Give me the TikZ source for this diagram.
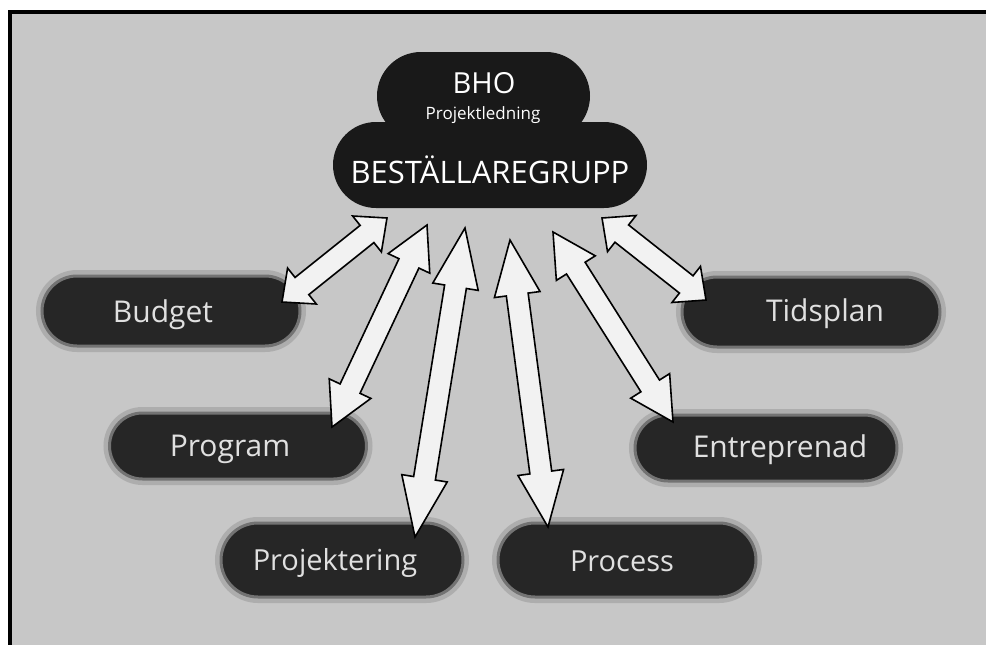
\documentclass[tikz,border=0pt]{standalone}
\usepackage{fontspec}
\setmainfont{Open Sans}
\usetikzlibrary{calc}
\tikzset{
  pillbox/.style={rectangle, rounded corners=35pt, inner sep=0pt, minimum height=70pt,
    fill=black!85, draw=black!55, line width=3pt,
    preaction={draw=black!32, line width=12pt}},
  cloudpart/.style={rectangle, rounded corners=43pt, inner sep=0pt, fill=black!90, draw=none},
  pilltext/.style={text=black!12, anchor=base, inner sep=0pt, font=\fontsize{30}{30}\selectfont},
  toptext/.style={text=white, anchor=base, inner sep=0pt},
  blockarrow/.style={draw=black, line width=1.6pt, fill=black!5, line join=miter},
}
\newcommand\dblarrow[2]{%
  \pgfmathanglebetweenpoints{\pgfpointanchor{#1}{center}}{\pgfpointanchor{#2}{center}}%
  \let\arang\pgfmathresult
  \pgfpointdiff{\pgfpointanchor{#1}{center}}{\pgfpointanchor{#2}{center}}%
  \pgfgetlastxy\arx\ary
  \pgfmathsetmacro\arlen{veclen(\arx,\ary)}%
  \pgfmathsetmacro\arhead{0.19*\arlen}%
  \pgfmathsetmacro\arb{\arlen-\arhead}%
  \draw[blockarrow, shift={(#1)}, rotate=\arang]
    (0pt,0pt) -- (\arhead pt,23pt) -- (\arhead pt,11pt) -- (\arb pt,11pt) -- (\arb pt,23pt)
    -- (\arlen pt,0pt) -- (\arb pt,-23pt) -- (\arb pt,-11pt) -- (\arhead pt,-11pt)
    -- (\arhead pt,-23pt) -- cycle;
}
\begin{document}
\begin{tikzpicture}[x=1pt,y=-1pt]
\useasboundingbox (0,0) rectangle (986,645);
% background and frame
\fill[white] (0,0) rectangle (986,645);
\fill[black!22] (10,11.5) rectangle (986,645);
\draw[line width=4pt] (10,645) -- (10,11.5) -- (986,11.5);

% pills
\node[pillbox, minimum width=258pt] (budget) at (171,311) {};
\node[pillbox, minimum width=258pt] (tidsplan) at (811,312) {};
\node[pillbox, minimum width=257pt, minimum height=66pt, rounded corners=33pt] (program) at (238,446) {};
\node[pillbox, minimum width=262pt, minimum height=66pt, rounded corners=33pt] (entreprenad) at (766,448) {};
\node[pillbox, minimum width=242pt, minimum height=74pt, rounded corners=37pt] (projektering) at (342,560) {};
\node[pillbox, minimum width=258pt, minimum height=74pt, rounded corners=37pt] (process) at (627,560) {};

% pill labels
\node[pilltext] (budgett) at (163,322) {Budget};
\node[pilltext] (tidsplant) at (825,321) {Tidsplan};
\node[pilltext] (programt) at (230,456) {Program};
\node[pilltext] (entreprenadt) at (780,457) {Entreprenad};
\node[pilltext, font=\fontsize{29}{29}\selectfont] (projekteringt) at (335,570) {Projektering};
\node[pilltext, font=\fontsize{29}{29}\selectfont] (processt) at (622,571) {Process};

% cloud
\node[cloudpart, minimum width=213pt, minimum height=88pt, rounded corners=44pt] (bho) at (483.5,96) {};
\node[cloudpart, minimum width=314pt, minimum height=86pt] (best) at (490,165) {};
\node[toptext, font=\fontsize{29}{29}\selectfont] (bhot) at (484,93) {BHO};
\node[toptext, font=\fontsize{17}{17}\selectfont] (pledt) at (483,119) {Projektledning};
\node[toptext, font=\fontsize{31}{31}\selectfont] (bestt) at (490,183) {BESTÄLLAREGRUPP};

% arrow end points
\coordinate (b1) at (282,302);  \coordinate (t1) at (387,218);
\coordinate (b2) at (332,427);  \coordinate (t2) at (427,225);
\coordinate (b3) at (415,537);  \coordinate (t3) at (465,228);
\coordinate (b4) at (548,527);  \coordinate (t4) at (510,240);
\coordinate (b5) at (673,422);  \coordinate (t5) at (553,232);
\coordinate (b6) at (706,300);  \coordinate (t6) at (602,218);

\dblarrow{b1}{t1}
\dblarrow{b2}{t2}
\dblarrow{b3}{t3}
\dblarrow{b4}{t4}
\dblarrow{b5}{t5}
\dblarrow{b6}{t6}
\end{tikzpicture}
\end{document}
